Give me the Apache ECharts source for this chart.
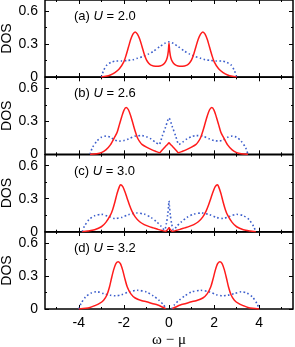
<!DOCTYPE html>
<html><head><meta charset="utf-8">
<script src="https://cdn.jsdelivr.net/npm/echarts@6/dist/echarts.min.js"></script>
<style>html,body{margin:0;padding:0;background:#fff}#c{width:295px;height:347px}</style>
</head><body><div id="c"></div>
<script>
// ---------- data (omega - mu, DOS) ----------
const panelTags = ['(a)', '(b)', '(c)', '(d)'];
const uValues = ['2.0', '2.6', '3.0', '3.2'];
const xTickLabels = [-4, -2, 0, 2, 4];
const yTickLabels = [0, 0.3, 0.6];

// (a) U = 2.0
const aRedX = [-3.0,-2.8,-2.6,-2.4,-2.2,-2.0,-1.9,-1.8,-1.7,-1.6,-1.5,-1.4,-1.3,-1.2,-1.1,-1.0,-0.9,-0.8,-0.6,-0.4,-0.25,-0.15,-0.08,-0.03,0,0.03,0.08,0.15,0.25,0.4,0.6,0.8,0.9,1.0,1.1,1.2,1.3,1.4,1.5,1.6,1.7,1.8,1.9,2.0,2.2,2.4,2.6,2.8,3.0];
const aRedY = [0,0.006,0.018,0.04,0.075,0.14,0.2,0.27,0.34,0.39,0.41,0.39,0.345,0.28,0.21,0.155,0.125,0.108,0.097,0.1,0.115,0.14,0.175,0.235,0.31,0.235,0.175,0.14,0.115,0.1,0.097,0.108,0.125,0.155,0.21,0.28,0.345,0.39,0.41,0.39,0.34,0.27,0.2,0.14,0.075,0.04,0.018,0.006,0];
const aBlueX = [-3.0,-2.9,-2.75,-2.55,-2.35,-2.1,-1.85,-1.6,-1.4,-1.15,-0.9,-0.7,-0.4,-0.2,0,0.2,0.4,0.7,0.9,1.15,1.4,1.6,1.85,2.1,2.35,2.55,2.75,2.9,3.0];
const aBlueY = [0,0.06,0.11,0.135,0.145,0.145,0.15,0.157,0.17,0.187,0.21,0.233,0.278,0.305,0.32,0.305,0.278,0.233,0.21,0.187,0.17,0.157,0.15,0.145,0.145,0.135,0.11,0.06,0];

// (b) U = 2.6
const bRedX = [-3.5,-3.2,-3.0,-2.8,-2.6,-2.4,-2.3,-2.2,-2.1,-2.0,-1.9,-1.8,-1.7,-1.6,-1.5,-1.4,-1.3,-1.2,-1.0,-0.8,-0.6,-0.42,-0.3,-0.15,-0.05,0,0.05,0.15,0.3,0.42,0.6,0.8,1.0,1.2,1.3,1.4,1.5,1.6,1.7,1.8,1.9,2.0,2.1,2.2,2.3,2.4,2.6,2.8,3.0,3.2,3.5];
const bRedY = [0,0.005,0.015,0.04,0.085,0.16,0.2,0.27,0.34,0.4,0.425,0.405,0.35,0.28,0.21,0.15,0.115,0.09,0.065,0.045,0.028,0.015,0.04,0.073,0.094,0.105,0.094,0.073,0.04,0.015,0.028,0.045,0.065,0.09,0.115,0.15,0.21,0.28,0.35,0.405,0.425,0.4,0.34,0.27,0.2,0.16,0.085,0.04,0.015,0.005,0];
const bBlueX = [-3.5,-3.4,-3.2,-3.0,-2.8,-2.6,-2.4,-2.2,-2.0,-1.8,-1.5,-1.2,-1.0,-0.8,-0.6,-0.44,-0.3,-0.15,0,0.15,0.3,0.44,0.6,0.8,1.0,1.2,1.5,1.8,2.0,2.2,2.4,2.6,2.8,3.0,3.2,3.4,3.5];
const bBlueY = [0,0.06,0.12,0.155,0.165,0.155,0.13,0.12,0.125,0.14,0.165,0.17,0.16,0.14,0.11,0.09,0.165,0.248,0.33,0.248,0.165,0.09,0.11,0.14,0.16,0.17,0.165,0.14,0.125,0.12,0.13,0.155,0.165,0.155,0.12,0.06,0];

// (c) U = 3.0
const cRedX = [-3.85,-3.6,-3.3,-3.0,-2.8,-2.6,-2.5,-2.4,-2.3,-2.2,-2.15,-2.05,-1.95,-1.85,-1.75,-1.65,-1.5,-1.3,-1.1,-0.9,-0.7,-0.5,-0.3,-0.15,-0.06,0,0.06,0.15,0.3,0.5,0.7,0.9,1.1,1.3,1.5,1.65,1.75,1.85,1.95,2.05,2.15,2.2,2.3,2.4,2.5,2.6,2.8,3.0,3.3,3.6,3.85];
const cRedY = [0,0.006,0.018,0.045,0.085,0.15,0.2,0.27,0.35,0.41,0.427,0.41,0.36,0.3,0.24,0.19,0.135,0.09,0.065,0.048,0.035,0.022,0.01,0.004,0.02,0.035,0.02,0.004,0.01,0.022,0.035,0.048,0.065,0.09,0.135,0.19,0.24,0.3,0.36,0.41,0.427,0.41,0.35,0.27,0.2,0.15,0.085,0.045,0.018,0.006,0];
const cBlueX = [-3.85,-3.75,-3.55,-3.3,-3.0,-2.7,-2.4,-2.1,-1.8,-1.45,-1.1,-0.8,-0.55,-0.35,-0.2,-0.12,-0.06,-0.02,0,0.02,0.06,0.12,0.2,0.35,0.55,0.8,1.1,1.45,1.8,2.1,2.4,2.7,3.0,3.3,3.55,3.75,3.85];
const cBlueY = [0,0.05,0.11,0.145,0.158,0.14,0.12,0.13,0.155,0.17,0.16,0.13,0.09,0.05,0.015,0.07,0.15,0.23,0.28,0.23,0.15,0.07,0.015,0.05,0.09,0.13,0.16,0.17,0.155,0.13,0.12,0.14,0.158,0.145,0.11,0.05,0];

// (d) U = 3.2  (gap at omega - mu = 0)
const dRedLX = [-4.0,-3.7,-3.5,-3.3,-3.1,-2.9,-2.75,-2.64,-2.55,-2.45,-2.35,-2.25,-2.15,-2.05,-1.95,-1.85,-1.7,-1.5,-1.2,-1.0,-0.75,-0.5,-0.3,-0.15];
const dRedLY = [0,0.006,0.014,0.03,0.048,0.08,0.13,0.2,0.28,0.36,0.415,0.43,0.41,0.35,0.27,0.2,0.14,0.1,0.075,0.066,0.05,0.036,0.018,0.003];
const dRedRX = [0.15,0.3,0.5,0.75,1.0,1.2,1.5,1.7,1.85,1.95,2.05,2.15,2.25,2.35,2.45,2.55,2.64,2.75,2.9,3.1,3.3,3.5,3.7,4.0];
const dRedRY = [0.003,0.018,0.036,0.05,0.066,0.075,0.1,0.14,0.2,0.27,0.35,0.41,0.43,0.415,0.36,0.28,0.2,0.13,0.08,0.048,0.03,0.014,0.006,0];
const dBlueLX = [-4.0,-3.9,-3.7,-3.45,-3.2,-2.9,-2.6,-2.37,-2.1,-1.8,-1.4,-1.0,-0.7,-0.45,-0.25,-0.12];
const dBlueLY = [0,0.05,0.11,0.145,0.157,0.14,0.125,0.12,0.13,0.155,0.17,0.155,0.12,0.08,0.04,0];
const dBlueRX = [0.12,0.25,0.45,0.7,1.0,1.4,1.8,2.1,2.37,2.6,2.9,3.2,3.45,3.7,3.9,4.0];
const dBlueRY = [0,0.04,0.08,0.12,0.155,0.17,0.155,0.13,0.12,0.125,0.14,0.157,0.145,0.11,0.05,0];

// ---------- build chart ----------
const pairs = (xs, ys) => xs.map((x, i) => [x, ys[i]]);
const panelSeries = [
  {blue: [[aBlueX, aBlueY]], red: [[aRedX, aRedY]]},
  {blue: [[bBlueX, bBlueY]], red: [[bRedX, bRedY]]},
  {blue: [[cBlueX, cBlueY]], red: [[cRedX, cRedY]]},
  {blue: [[dBlueLX, dBlueLY], [dBlueRX, dBlueRY]], red: [[dRedLX, dRedLY], [dRedRX, dRedRY]]}
];

const FONT = "'Liberation Sans', Arial, sans-serif";
const tops = [0, 77.3, 154.7, 232];
const H = 77;
const majorX = [-4, -2, 0, 2, 4], minorX = [-5, -3, -1, 1, 3, 5];
const majorY = [0, 0.3, 0.6], minorY = [0.15, 0.45];

const grids = [], xAxes = [], yAxes = [], series = [], graphics = [];
for (let p = 0; p < 4; p++) {
  grids.push({left: 45, width: 248, top: tops[p], height: H, show: true, containLabel: false,
    outerBoundsMode: 'none',
    borderColor: '#000', borderWidth: 1.5, backgroundColor: 'transparent'});
  const last = p === 3;
  const xa = (pos, ticks, len, withLabels) => ({
    type: 'value', gridIndex: p, position: pos, min: -5.5, max: 5.5,
    axisLine: {show: false, onZero: false}, splitLine: {show: false},
    axisTick: {show: true, inside: true, length: len, customValues: ticks, lineStyle: {color: '#000', width: 1}},
    axisLabel: withLabels ? {show: true, customValues: xTickLabels, margin: 7, color: '#000', fontSize: 14, fontFamily: FONT} : {show: false},
    name: withLabels ? 'ω − μ' : '', nameLocation: 'middle', nameGap: 24, nameMoveOverlap: false,
    nameTextStyle: {fontFamily: "'Liberation Serif', 'Times New Roman', serif", fontSize: 15, color: '#000'}
  });
  xAxes.push(xa('bottom', majorX, 4, last), xa('bottom', minorX, 2, false), xa('top', majorX, 4, false), xa('top', minorX, 2, false));
  const ya = (pos, ticks, len, withLabels) => ({
    type: 'value', gridIndex: p, position: pos, min: 0, max: 0.7,
    axisLine: {show: false, onZero: false}, splitLine: {show: false},
    axisTick: {show: true, inside: true, length: len, customValues: ticks, lineStyle: {color: '#000', width: 1}},
    axisLabel: withLabels ? {show: true, customValues: yTickLabels, margin: 7, color: '#000', fontSize: 14, fontFamily: FONT} : {show: false},
    name: withLabels ? 'DOS' : '', nameLocation: 'middle', nameGap: 31, nameMoveOverlap: false,
    nameTextStyle: {fontFamily: FONT, fontSize: 14, color: '#000'}
  });
  yAxes.push(ya('left', majorY, 4, true), ya('left', minorY, 2, false), ya('right', majorY, 4, false), ya('right', minorY, 2, false));

  const ps = panelSeries[p];
  ps.blue.forEach(([xs, ys]) => series.push({
    type: 'line', xAxisIndex: p * 4, yAxisIndex: p * 4, data: pairs(xs, ys), smooth: 0.25,
    showSymbol: false, symbol: 'none', z: 2,
    lineStyle: {color: '#3d5fcc', width: 1.6, type: [1.6, 2.4]}
  }));
  ps.red.forEach(([xs, ys]) => series.push({
    type: 'line', xAxisIndex: p * 4, yAxisIndex: p * 4, data: pairs(xs, ys), smooth: 0.25,
    showSymbol: false, symbol: 'none', z: 3,
    lineStyle: {color: '#ff1c1c', width: 1.5}
  }));

  graphics.push({
    type: 'text', x: 74, y: tops[p] + 16.5,
    style: {
      text: panelTags[p] + ' {i|U} = ' + uValues[p],
      rich: {i: {fontStyle: 'italic', fontSize: 13, fontFamily: FONT, fill: '#000'}},
      fontSize: 13, fontFamily: FONT, fill: '#000', verticalAlign: 'middle', align: 'left'
    }
  });
}

const chart = echarts.init(document.getElementById('c'), null, {renderer: 'canvas'});
chart.setOption({
  animation: false,
  backgroundColor: '#fff',
  grid: grids, xAxis: xAxes, yAxis: yAxes, series: series, graphic: graphics
});
</script></body></html>
